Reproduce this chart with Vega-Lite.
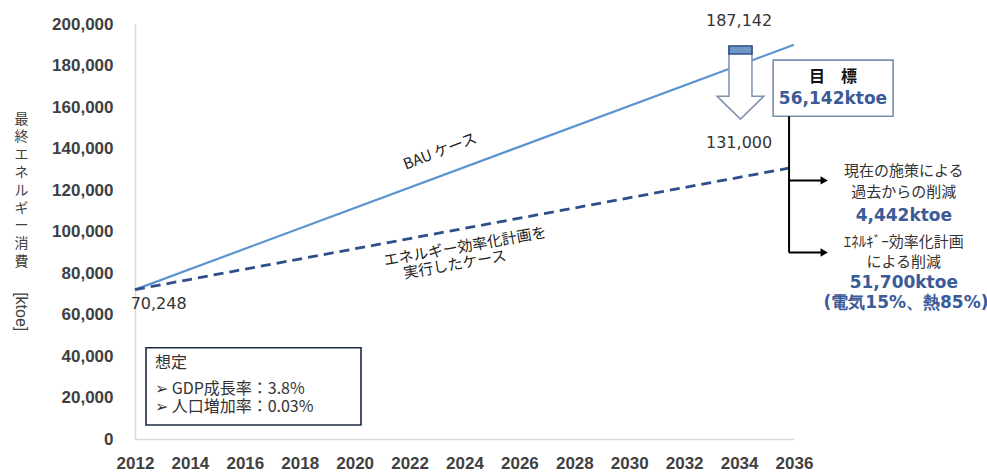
{
  "$schema": "https://vega.github.io/schema/vega-lite/v6.json",
  "width": 659,
  "height": 415,
  "autosize": {"type": "none"},
  "padding": {"left": 135, "top": 24, "right": 193, "bottom": 33},
  "background": "white",
  "config": {"view": {"stroke": null}, "font": "Liberation Sans"},
  "encoding": {
    "x": {
      "field": "year", "type": "quantitative",
      "scale": {"domain": [2012, 2036], "nice": false, "zero": false},
      "axis": {
        "values": [2012, 2014, 2016, 2018, 2020, 2022, 2024, 2026, 2028, 2030, 2032, 2034, 2036],
        "labelExpr": "format(datum.value, 'd')", "title": null, "grid": false, "ticks": false,
        "labelFont": "Liberation Sans", "labelFontSize": 17, "labelFontWeight": "bold", "labelColor": "#404040",
        "labelPadding": 16, "labelFlush": false, "labelOverlap": false,
        "domainColor": "#d9d9d9", "domainWidth": 1.5
      }
    },
    "y": {
      "field": "value", "type": "quantitative",
      "scale": {"domain": [0, 200000], "nice": false},
      "axis": {
        "values": [0, 20000, 40000, 60000, 80000, 100000, 120000, 140000, 160000, 180000, 200000],
        "labelExpr": "format(datum.value, ',')", "grid": false, "ticks": false,
        "labelFont": "Liberation Sans", "labelFontSize": 17, "labelFontWeight": "bold", "labelColor": "#404040",
        "labelPadding": 22, "labelFlush": false, "labelOverlap": false,
        "domainColor": "#d9d9d9", "domainWidth": 1.5,
        "title": ["最", "終", "エ", "ネ", "ル", "ギ", "ー", "消", "費"],
        "titleAngle": 0, "titleAlign": "center", "titleBaseline": "top",
        "titleX": -114, "titleY": 88, "titleLineHeight": 17.8,
        "titleFont": "Noto Sans CJK JP", "titleFontSize": 14, "titleFontWeight": "normal", "titleColor": "#404040"
      }
    }
  },
  "layer": [
    {
      "data": {"values": [
        {"case": "BAU", "year": 2012, "value": 72000},
        {"case": "BAU", "year": 2036, "value": 190000}
      ]},
      "mark": {"type": "line", "color": "#5b95cf", "strokeWidth": 2.2}
    },
    {
      "data": {"values": [
        {"case": "Plan", "year": 2012, "value": 72000},
        {"case": "Plan", "year": 2036, "value": 131000}
      ]},
      "mark": {"type": "line", "color": "#2f4f8c", "strokeWidth": 2.8, "strokeDash": [10, 6]}
    },
    {
      "data": {"values": [{"year": 2012.4, "year2": 2020.23, "value": 43961, "value2": 6763}]},
      "mark": {"type": "rect", "fill": "white", "stroke": "#1f2a44", "strokeWidth": 1.6},
      "encoding": {"x2": {"field": "year2"}, "y2": {"field": "value2"}}
    },
    {
      "data": {"values": [{"year": 2035.24, "year2": 2039.61, "value": 182609, "value2": 155556}]},
      "mark": {"type": "rect", "fill": "white", "stroke": "#7a8fb0", "strokeWidth": 1.6},
      "encoding": {"x2": {"field": "year2"}, "y2": {"field": "value2"}}
    },
    {
      "data": {"values": [{"year": 2034.05, "value": 171739}]},
      "mark": {
        "type": "point", "filled": true, "fill": "white", "opacity": 1,
        "stroke": "#7f93b0", "strokeWidth": 1.5, "size": 5329,
        "shape": "M-0.315,-1 L0.315,-1 L0.315,0.37 L0.644,0.37 L0,1 L-0.644,0.37 L-0.315,0.37 Z"
      }
    },
    {
      "data": {"values": [{"year": 2033.63, "year2": 2034.47, "value": 189372, "value2": 185507}]},
      "mark": {"type": "rect", "fill": "#6f97c6", "stroke": "#2f5587", "strokeWidth": 1.6},
      "encoding": {"x2": {"field": "year2"}, "y2": {"field": "value2"}}
    },
    {
      "data": {"values": [{"year": 2035.82, "value": 155556, "value2": 89855}]},
      "mark": {"type": "rule", "color": "black", "strokeWidth": 2},
      "encoding": {"y2": {"field": "value2"}}
    },
    {
      "data": {"values": [
        {"year": 2035.82, "year2": 2037.0, "value": 124638},
        {"year": 2035.82, "year2": 2037.0, "value": 89855}
      ]},
      "mark": {"type": "rule", "color": "black", "strokeWidth": 2},
      "encoding": {"x2": {"field": "year2"}}
    },
    {
      "data": {"values": [
        {"year": 2037.1, "value": 124638},
        {"year": 2037.1, "value": 89855}
      ]},
      "mark": {"type": "point", "shape": "triangle-right", "filled": true, "color": "black", "opacity": 1, "size": 70}
    },
    {
      "data": {"values": [
        {"label": "187,142", "year": 2034.0, "value": 201449},
        {"label": "131,000", "year": 2034.0, "value": 142512},
        {"label": "70,248", "year": 2012.86, "value": 65217}
      ]},
      "mark": {"type": "text", "font": "DejaVu Sans", "fontSize": 16, "color": "#333333", "align": "center", "baseline": "middle"},
      "encoding": {"text": {"field": "label"}}
    },
    {
      "data": {"values": [{"label": "目　標", "year": 2037.42, "value": 174396}]},
      "mark": {"type": "text", "font": "Noto Sans CJK JP", "fontSize": 16, "fontWeight": "bold", "color": "#111111", "align": "center", "baseline": "middle"},
      "encoding": {"text": {"field": "label"}}
    },
    {
      "data": {"values": [
        {"label": "56,142ktoe", "year": 2037.42, "value": 163768},
        {"label": "4,442ktoe", "year": 2040.0, "value": 107246},
        {"label": "51,700ktoe", "year": 2040.0, "value": 75362},
        {"label": "(電気15%、熱85%)", "year": 2040.08, "value": 65700}
      ]},
      "mark": {"type": "text", "font": "DejaVu Sans", "fontSize": 17, "fontWeight": "bold", "color": "#3b5a99", "align": "center", "baseline": "middle"},
      "encoding": {"text": {"field": "label"}}
    },
    {
      "data": {"values": [
        {"label": "現在の施策による", "year": 2040.0, "value": 128986},
        {"label": "過去からの削減", "year": 2040.0, "value": 118841},
        {"label": "ｴﾈﾙｷﾞｰ効率化計画", "year": 2040.0, "value": 95169},
        {"label": "による削減", "year": 2040.0, "value": 85507}
      ]},
      "mark": {"type": "text", "font": "Noto Sans CJK JP", "fontSize": 15, "color": "#333333", "align": "center", "baseline": "middle"},
      "encoding": {"text": {"field": "label"}}
    },
    {
      "data": {"values": [
        {"label": "想定", "year": 2012.73, "value": 36715},
        {"label": "➢ GDP成長率：3.8%", "year": 2012.73, "value": 24155},
        {"label": "➢ 人口増加率：0.03%", "year": 2012.73, "value": 15459}
      ]},
      "mark": {"type": "text", "font": "Noto Sans CJK JP", "fontSize": 16, "color": "#333333", "align": "left", "baseline": "middle"},
      "encoding": {"text": {"field": "label"}}
    },
    {
      "data": {"values": [{"label": "BAU ケース", "year": 2023.11, "value": 138647}]},
      "mark": {"type": "text", "font": "Noto Sans CJK JP", "fontSize": 15, "color": "#222222", "align": "center", "baseline": "middle", "angle": -21},
      "encoding": {"text": {"field": "label"}}
    },
    {
      "data": {"values": [
        {"label": "エネルギー効率化計画を", "year": 2024.02, "value": 92754},
        {"label": "実行したケース", "year": 2023.65, "value": 84058}
      ]},
      "mark": {"type": "text", "font": "Noto Sans CJK JP", "fontSize": 15, "color": "#222222", "align": "center", "baseline": "middle", "angle": -10},
      "encoding": {"text": {"field": "label"}}
    },
    {
      "data": {"values": [{"label": "[ktoe]", "year": 2007.85, "value": 61353}]},
      "mark": {"type": "text", "font": "Liberation Sans", "fontSize": 16, "color": "#404040", "align": "center", "baseline": "middle", "angle": 90},
      "encoding": {"text": {"field": "label"}}
    }
  ]
}
